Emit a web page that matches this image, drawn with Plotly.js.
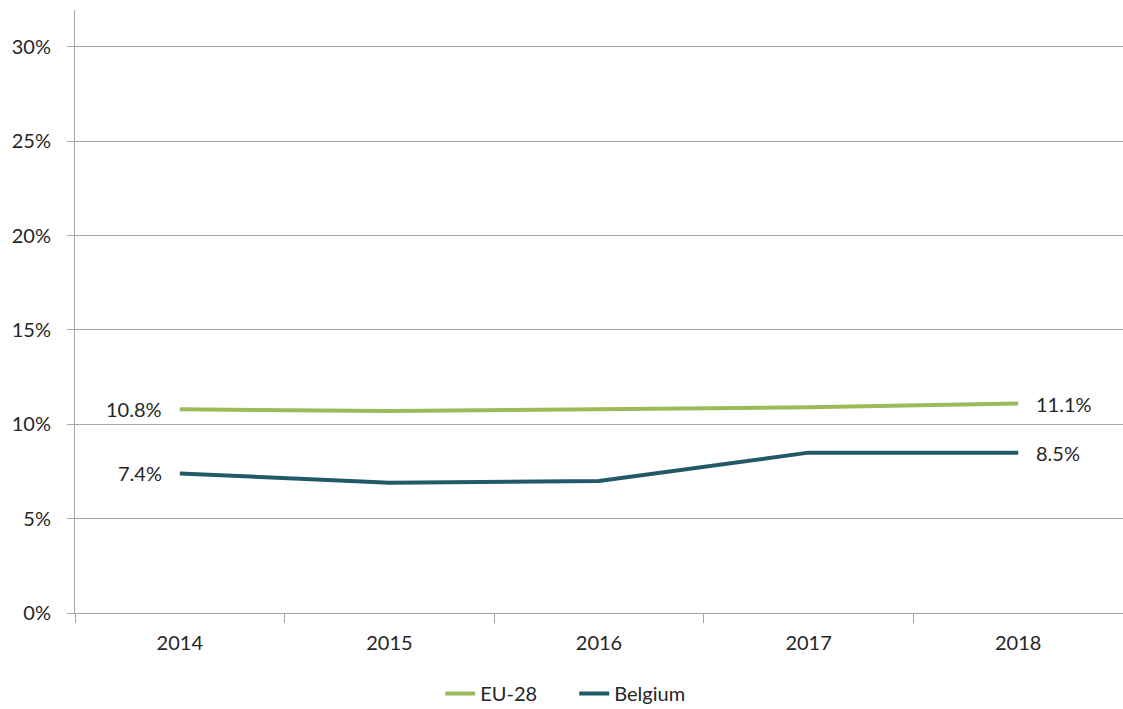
<!DOCTYPE html>
<html><head><meta charset="utf-8">
<script src="https://cdn.plot.ly/plotly-3.0.1.min.js"></script>
<style>html,body{margin:0;padding:0;overflow:hidden;background:#fff}</style>
</head><body>
<div id="chart" style="width:1123px;height:709px"></div>
<script>
const years = ['2014','2015','2016','2017','2018'];
const eu28 = [10.8, 10.7, 10.8, 10.9, 11.1];
const belgium = [7.4, 6.9, 7.0, 8.5, 8.5];
const yTicks = [0, 5, 10, 15, 20, 25, 30];
const yTickText = ['0%', '5%', '10%', '15%', '20%', '25%', '30%'];

const font = {family:'Lato, "Open Sans", sans-serif', size:20, color:'#262626'};

const traces = [
  {x: years, y: eu28, name: 'EU-28', type: 'scatter', mode: 'lines',
   line: {color: '#9BBB59', width: 4}, hoverinfo:'skip'},
  {x: years, y: belgium, name: 'Belgium', type: 'scatter', mode: 'lines',
   line: {color: '#215968', width: 4}, hoverinfo:'skip'}
];

function endAnnotations(vals){
  const last = vals.length - 1;
  return [
    {x: 0, y: vals[0], text: vals[0].toFixed(1)+'%', showarrow:false,
     xanchor:'right', yanchor:'middle', xshift:-16, font: font},
    {x: last, y: vals[last], text: vals[last].toFixed(1)+'%', showarrow:false,
     xanchor:'left', yanchor:'middle', xshift:16, font: font}
  ];
}

const layout = {
  width: 1123, height: 709,
  margin: {l: 75, r: 0, t: 10, b: 96},
  paper_bgcolor: '#fff', plot_bgcolor: '#fff',
  font: font,
  showlegend: true,
  legend: {orientation: 'h', x: 0.392, xanchor: 'left', xref: 'container',
           y: 0.022, yanchor: 'middle', yref: 'container', font: font,
           entrywidth: 89, entrywidthmode: 'pixels'},
  annotations: endAnnotations(eu28).concat(endAnnotations(belgium)),
  xaxis: {type: 'category', range: [-0.5, 4.5], showgrid: false,
          showline: true, linecolor: '#a6a6a6', linewidth: 1,
          ticks: 'outside', tickson: 'boundaries', ticklen: 9, tickcolor: '#a6a6a6',
          ticklabelstandoff: 12, tickfont: font, zeroline: false, automargin: false},
  yaxis: {range: [0, 31.96], tickvals: yTicks, ticktext: yTickText,
          showgrid: true, gridcolor: '#a6a6a6', gridwidth: 1,
          showline: true, linecolor: '#a6a6a6', linewidth: 1,
          ticks: 'outside', ticklen: 7, tickcolor: '#a6a6a6', ticklabelstandoff: 12,
          tickfont: font, zeroline: false, automargin: false}
};
Plotly.newPlot('chart', traces, layout, {displayModeBar: false, staticPlot: true});
</script>
</body></html>
